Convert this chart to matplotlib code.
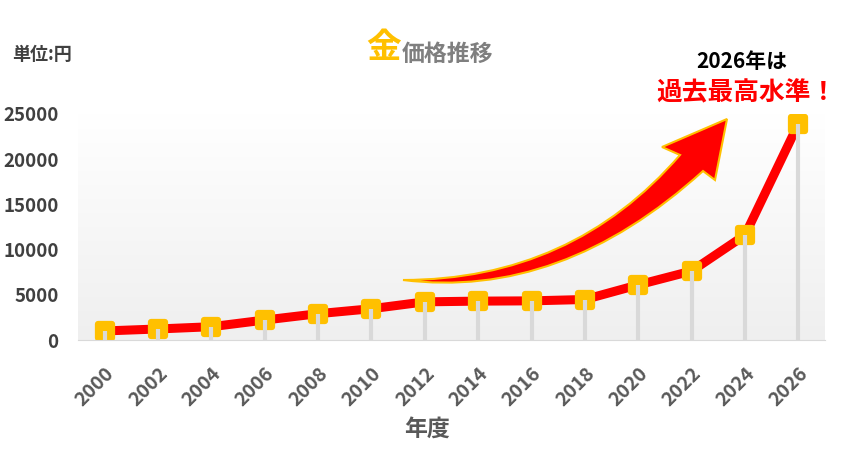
import matplotlib
matplotlib.use("Agg")
import matplotlib.pyplot as plt
import numpy as np
from matplotlib.markers import MarkerStyle
from matplotlib.path import Path
from matplotlib.patches import PathPatch

plt.rcParams['font.family'] = ['Noto Sans CJK JP', 'DejaVu Sans']

years = ['2000', '2002', '2004', '2006', '2008', '2010', '2012',
         '2014', '2016', '2018', '2020', '2022', '2024', '2026']
prices = [1000, 1220, 1470, 2210, 2910, 3460, 4220,
          4300, 4330, 4480, 6100, 7630, 11600, 23900]
y_ticks = [0, 5000, 10000, 15000, 20000, 25000]

W, H = 845, 457
fig = plt.figure(figsize=(W / 100, H / 100), dpi=100)
ax = fig.add_axes([78 / W, 1 - 340 / H, (825 - 78) / W, (340 - 114) / H])

x = np.arange(len(years))
ax.set_xlim(-0.5, len(years) - 0.5)
ax.set_ylim(0, 25000)

# 背景のグラデーション
grad = np.linspace(0, 1, 256).reshape(-1, 1)
ax.imshow(grad, cmap=matplotlib.colors.LinearSegmentedColormap.from_list(
    'bg', ['#EFEFEF', '#FFFFFF']), origin='lower', aspect='auto',
    extent=[-0.5, len(years) - 0.5, 0, 25000], zorder=0)

ax.plot(x, prices, color='#FF0000', lw=6.5, zorder=2, solid_joinstyle='round')
ax.plot(x, prices, ls='none', marker=MarkerStyle('s', joinstyle='round'),
        ms=10, mfc='#FFC000', mec='#FFC000', mew=4.5, zorder=3)
ax.vlines(x, 0, prices, color='#D9D9D9', lw=3, zorder=4)

for s in ['top', 'right', 'left']:
    ax.spines[s].set_visible(False)
ax.spines['bottom'].set_color('#D9D9D9')
ax.spines['bottom'].set_zorder(5)

ax.set_xticks(x)
ax.set_xticklabels(years, rotation=45, ha='right', rotation_mode='anchor',
                   fontsize=14, fontweight='bold', color='#595959')
ax.set_yticks(y_ticks)
ax.set_yticklabels([str(v) for v in y_ticks], fontsize=13.5,
                   fontweight='bold', color='#404040')
ax.tick_params(axis='both', length=0)
ax.tick_params(axis='x', pad=17)
ax.tick_params(axis='y', pad=14)

fig.text(427 / W, 1 - 429 / H, '年度', ha='center', va='center',
         fontsize=16.5, fontweight='bold', color='#595959')
fig.text(12 / W, 1 - 55 / H, '単位:円', ha='left', va='center',
         fontsize=13, fontweight='bold', color='#404040')

# タイトル
fig.text(401 / W, 1 - 48 / H, '金', ha='right', va='center',
         fontsize=25, fontweight='bold', color='#FFC000')
fig.text(402 / W, 1 - 54 / H, '価格推移', ha='left', va='center',
         fontsize=16.5, fontweight='bold', color='#7F7F7F')

fig.text(742 / W, 1 - 62 / H, '2026年は', ha='center', va='center',
         fontsize=15, fontweight='bold', color='#000000')
fig.text(746 / W, 1 - 93 / H, '過去最高水準！', ha='center', va='center',
         fontsize=18.5, fontweight='bold', color='#FF0000')

# 上昇矢印
pts = [(403, 280), (572, 280), (680, 155), (662, 147), (727, 119),
       (715, 180), (703, 171), (561, 300), (403, 280), (403, 280)]
codes = [Path.MOVETO, Path.CURVE3, Path.CURVE3, Path.LINETO, Path.LINETO,
         Path.LINETO, Path.LINETO, Path.CURVE3, Path.CURVE3, Path.CLOSEPOLY]
verts = [(px / W, 1 - py / H) for px, py in pts]
arrow = PathPatch(Path(verts, codes), transform=fig.transFigure,
                  facecolor='#FF0000', edgecolor='#FFC000', lw=1.5, zorder=6)
fig.patches.append(arrow)

fig.savefig('out.png', dpi=100)
